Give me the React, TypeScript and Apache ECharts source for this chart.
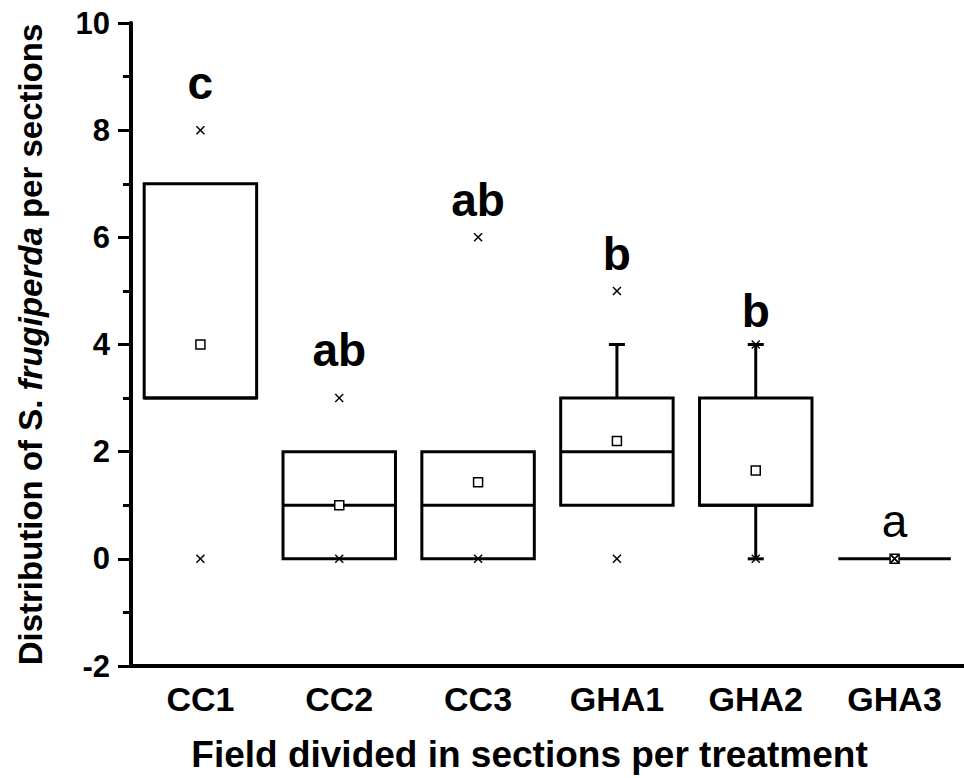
import React, { useEffect, useRef } from "react";
import * as echarts from "echarts";

const categories = ["CC1", "CC2", "CC3", "GHA1", "GHA2", "GHA3"];
const q1 = [3, 0, 0, 1, 1, 0];
const median = [3, 1, 1, 2, 1, 0];
const q3 = [7, 2, 2, 3, 3, 0];
const whiskerLow = [3, 0, 0, 1, 0, 0];
const whiskerHigh = [7, 2, 2, 4, 4, 0];
const mean = [4, 1, 1.43, 2.2, 1.65, 0];
const minVal = [0, 0, 0, 0, 0, 0];
const maxVal = [8, 3, 6, 5, 4, 0];
const letters = ["c", "ab", "ab", "b", "b", "a"];
const letterY = [8.88, 3.9, 6.7, 5.68, 4.62, 0.7];
const letterBold = [true, true, true, true, true, false];
const yTicks = { min: -2, max: 10, interval: 2 };

const FONT = "'Liberation Sans', Arial, sans-serif";

export default function App() {
  const ref = useRef<HTMLDivElement>(null);
  useEffect(() => {
    if (!ref.current) return;
    const chart = echarts.init(ref.current, null, { renderer: "svg" });
    const boxData = categories.map((_, i) => [
      i, q1[i], median[i], q3[i], whiskerLow[i], whiskerHigh[i], mean[i], minVal[i], maxVal[i],
    ]);
    const letterData = categories.map((_, i) => [i, letterY[i]]);
    const renderBox = (params: any, api: any) => {
      const i = api.value(0);
      const cx = api.coord([i, 0])[0];
      const bw = api.size([1, 0])[0] * 0.81;
      const Y = (v: number) => api.coord([i, v])[1];
      const vq1 = api.value(1), vmed = api.value(2), vq3 = api.value(3);
      const wl = api.value(4), wh = api.value(5), mn = api.value(6);
      const lo = api.value(7), hi = api.value(8);
      const line = { stroke: "#000", lineWidth: 3 };
      const children: any[] = [];
      if (wh > vq3) {
        children.push({ type: "line", shape: { x1: cx, y1: Y(vq3), x2: cx, y2: Y(wh) }, style: line });
        children.push({ type: "line", shape: { x1: cx - 8, y1: Y(wh), x2: cx + 8, y2: Y(wh) }, style: line });
      }
      if (wl < vq1) {
        children.push({ type: "line", shape: { x1: cx, y1: Y(vq1), x2: cx, y2: Y(wl) }, style: line });
        children.push({ type: "line", shape: { x1: cx - 8, y1: Y(wl), x2: cx + 8, y2: Y(wl) }, style: line });
      }
      if (vq3 > vq1) {
        children.push({
          type: "rect",
          shape: { x: cx - bw / 2, y: Y(vq3), width: bw, height: Y(vq1) - Y(vq3) },
          style: { fill: "none", stroke: "#000", lineWidth: 3 },
        });
      }
      children.push({
        type: "line",
        shape: { x1: cx - bw / 2, y1: Y(vmed), x2: cx + bw / 2, y2: Y(vmed) },
        style: line,
      });
      children.push({
        type: "rect",
        shape: { x: cx - 4.5, y: Y(mn) - 4.5, width: 9, height: 9 },
        style: { fill: "#fff", stroke: "#000", lineWidth: 1.5 },
      });
      [lo, hi].forEach((v) => {
        const y = Y(v);
        const s = 4;
        children.push({ type: "line", shape: { x1: cx - s, y1: y - s, x2: cx + s, y2: y + s }, style: { stroke: "#000", lineWidth: 1.5 } });
        children.push({ type: "line", shape: { x1: cx - s, y1: y + s, x2: cx + s, y2: y - s }, style: { stroke: "#000", lineWidth: 1.5 } });
      });
      return { type: "group", children };
    };
    const renderLetter = (params: any, api: any) => {
      const k = params.dataIndex;
      const p = api.coord([api.value(0), api.value(1)]);
      return {
        type: "text",
        x: p[0],
        y: p[1],
        style: {
          text: letters[k],
          fill: "#000",
          fontFamily: FONT,
          fontSize: 46,
          fontWeight: letterBold[k] ? "bold" : "normal",
          textAlign: "center",
          textVerticalAlign: "middle",
        },
      };
    };
    chart.setOption({
      animation: false,
      backgroundColor: "#fff",
      grid: { left: 131, top: 23, width: 840, height: 644, containLabel: false },
      xAxis: {
        type: "category",
        data: categories,
        boundaryGap: true,
        axisLine: { onZero: false, lineStyle: { color: "#000", width: 4 } },
        axisTick: { alignWithLabel: true, length: 13, lineStyle: { color: "#000", width: 3 } },
        axisLabel: { color: "#000", fontFamily: FONT, fontWeight: "bold", fontSize: 34, margin: 16 },
        splitLine: { show: false },
        name: "Field divided in sections per treatment",
        nameLocation: "middle",
        nameGap: 70,
        nameTextStyle: {
          color: "#000",
          fontFamily: FONT,
          fontWeight: "bold",
          fontSize: 37,
          padding: [0, 36, 0, 0],
        },
      },
      yAxis: {
        type: "value",
        min: yTicks.min,
        max: yTicks.max,
        interval: yTicks.interval,
        axisLine: { show: true, lineStyle: { color: "#000", width: 4 } },
        axisTick: { show: true, length: 13, lineStyle: { color: "#000", width: 3 } },
        minorTick: { show: true, splitNumber: 2, length: 8, lineStyle: { color: "#000", width: 3 } },
        axisLabel: { color: "#000", fontFamily: FONT, fontWeight: "bold", fontSize: 31, margin: 21 },
        splitLine: { show: false },
        name: "{b|Distribution of S. }{i|frugiperda}{b| per sections}",
        nameLocation: "middle",
        nameGap: 84,
        nameRotate: 90,
        nameTextStyle: {
          color: "#000",
          rich: {
            b: { fontFamily: FONT, fontWeight: "bold", fontSize: 33, color: "#000" },
            i: { fontFamily: FONT, fontWeight: "bold", fontStyle: "italic", fontSize: 33, color: "#000" },
          },
        },
      },
      series: [
        {
          type: "custom",
          renderItem: renderBox,
          data: boxData,
          encode: { x: 0, y: [1, 2, 3, 4, 5, 6, 7, 8] },
          z: 3,
        },
        {
          type: "custom",
          renderItem: renderLetter,
          data: letterData,
          encode: { x: 0, y: 1 },
          z: 4,
        },
      ],
    });
    return () => chart.dispose();
  }, []);
  return (
    <div
      ref={ref}
      style={{ position: "absolute", left: 0, top: 0, width: 964, height: 778, background: "#fff" }}
    />
  );
}
